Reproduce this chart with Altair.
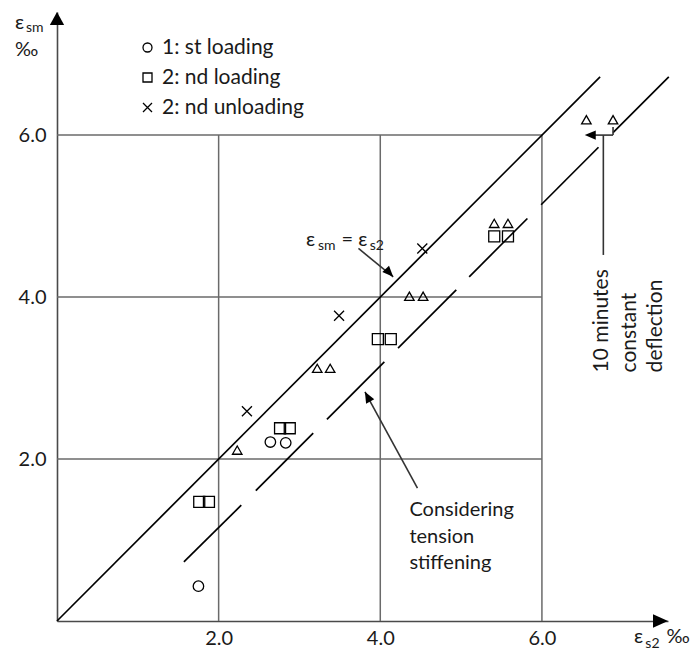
import altair as alt
import pandas as pd

# ---- measured strains (per mille) --------------------------------------
circle_x = [1.75, 2.64, 2.83]
circle_y = [0.43, 2.21, 2.20]
square_x = [1.76, 1.88, 2.76, 2.88, 3.97, 4.13, 5.41, 5.58]
square_y = [1.47, 1.47, 2.38, 2.38, 3.48, 3.48, 4.75, 4.75]
cross_x = [2.35, 3.49, 4.52]
cross_y = [2.59, 3.77, 4.60]
triangle_x = [2.23, 3.22, 3.38, 4.36, 4.53, 5.41, 5.58, 6.55, 6.88]
triangle_y = [2.11, 3.12, 3.12, 4.01, 4.01, 4.91, 4.91, 6.19, 6.19]

series_names = ["1: st loading", "2: nd loading", "2: nd unloading", "constant deflection"]
legend_names = series_names[:3]
marker_sizes = [110, 121, 100, 90]

# equality line eps_sm = eps_s2
equal_x = [0.0, 6.72]
equal_y = [0.0, 6.72]

# tension-stiffening line, drawn as long dashes
ts_x0 = [1.57, 2.46, 3.34, 4.22, 5.10, 5.99, 6.88]
ts_y0 = [0.73, 1.61, 2.49, 3.37, 4.25, 5.14, 6.03]
ts_x1 = [2.28, 3.17, 4.05, 4.94, 5.82, 6.70, 7.57]
ts_y1 = [1.43, 2.32, 3.20, 4.09, 4.97, 5.85, 6.72]

grid_values = [2.0, 4.0, 6.0]
grid_end = 6.0

X_MAX = 7.56
Y_MAX = 7.52

FONT = "Lato"
INK = "#1a1a1a"
GRID = "#6a6a6a"

# ---- tables --------------------------------------------------------------
points = pd.concat([
    pd.DataFrame({"x": circle_x, "y": circle_y, "series": series_names[0]}),
    pd.DataFrame({"x": square_x, "y": square_y, "series": series_names[1]}),
    pd.DataFrame({"x": cross_x, "y": cross_y, "series": series_names[2]}),
    pd.DataFrame({"x": triangle_x, "y": triangle_y, "series": series_names[3]}),
], ignore_index=True)
points["marker"] = points["series"].map(dict(zip(series_names, marker_sizes)))

grid = pd.concat([
    pd.DataFrame({"x": grid_values, "y": [0.0] * 3, "x2": grid_values, "y2": [grid_end] * 3}),
    pd.DataFrame({"x": [0.0] * 3, "y": grid_values, "x2": [grid_end] * 3, "y2": grid_values}),
], ignore_index=True)

lines = pd.concat([
    pd.DataFrame({"x": [equal_x[0]], "y": [equal_y[0]], "x2": [equal_x[1]], "y2": [equal_y[1]]}),
    pd.DataFrame({"x": ts_x0, "y": ts_y0, "x2": ts_x1, "y2": ts_y1}),
], ignore_index=True)

# annotation leaders (shaft of each arrow)
leader_x = [3.73, 4.46, 6.60, 6.76, 6.88]
leader_y = [4.60, 1.64, 6.00, 6.00, 6.00]
leader_x2 = [4.16, 3.81, 6.88, 6.76, 6.88]
leader_y2 = [4.25, 2.83, 6.00, 4.52, 6.10]
leaders = pd.DataFrame({"x": leader_x, "y": leader_y, "x2": leader_x2, "y2": leader_y2})

# arrow heads: tip position and pointing direction (degrees, clockwise)
head_x = [4.16, 3.81, 6.53]
head_y = [4.25, 2.83, 6.00]
head_angle = [46.7, 241.6, 180.0]
heads = pd.DataFrame({"x": head_x, "y": head_y, "angle": head_angle})

label_text = ["Considering", "tension", "stiffening", "ε", "‰", "ε", "‰", "ε", "= ε"]
label_x = [4.36, 4.36, 4.36, -0.52, -0.52, 7.14, 7.54, 3.08, 3.52]
label_y = [1.37, 1.04, 0.72, 7.38, 7.05, -0.20, -0.20, 4.71, 4.71]
labels = pd.DataFrame({"x": label_x, "y": label_y, "text": label_text})

sub_text = ["sm", "s2", "sm", "s2"]
sub_x = [-0.385, 7.28, 3.23, 3.87]
sub_y = [7.32, -0.28, 4.63, 4.63]
subs = pd.DataFrame({"x": sub_x, "y": sub_y, "text": sub_text})

rot_text = ["10 minutes", "constant", "deflection"]
rot_x = [6.745, 7.09, 7.41]
rot_y = [3.07, 3.07, 3.07]
rotated = pd.DataFrame({"x": rot_x, "y": rot_y, "text": rot_text})

y_tip = pd.DataFrame({"x": [0.0], "y": [Y_MAX]})
x_tip = pd.DataFrame({"x": [X_MAX], "y": [0.0]})

# ---- encodings -----------------------------------------------------------
xs = alt.Scale(domain=[0, X_MAX], nice=False, zero=False)
ys = alt.Scale(domain=[0, Y_MAX], nice=False, zero=False)

x_axis = alt.Axis(values=grid_values, format=".1f", title=None, grid=False, ticks=False,
                  tickSize=0, labelPadding=7, labelFont=FONT, labelFontSize=20,
                  labelColor=INK, domainColor="#4a4a4a", domainWidth=1.6)
y_axis = alt.Axis(values=grid_values, format=".1f", title=None, grid=False, ticks=False,
                  tickSize=0, labelPadding=11, labelFont=FONT, labelFontSize=20,
                  labelColor=INK, domainColor="#4a4a4a", domainWidth=1.6)


def X(field="x"):
    return alt.X(field, type="quantitative", scale=xs, axis=x_axis)


def Y(field="y"):
    return alt.Y(field, type="quantitative", scale=ys, axis=y_axis)


grid_layer = alt.Chart(grid).mark_rule(color=GRID, strokeWidth=1.5).encode(
    x=X(), y=Y(), x2="x2", y2="y2")

line_layer = alt.Chart(lines).mark_rule(color="black", strokeWidth=1.7).encode(
    x=X(), y=Y(), x2="x2", y2="y2")

leader_layer = alt.Chart(leaders).mark_rule(color="#333333", strokeWidth=1.6).encode(
    x=X(), y=Y(), x2="x2", y2="y2")

head_layer = alt.Chart(heads).mark_point(
    shape="M0,0L-1,-0.42L-1,0.42Z", filled=True, color="black", opacity=1, size=484
).encode(x=X(), y=Y(), angle=alt.Angle("angle:Q", scale=None))

y_tip_layer = alt.Chart(y_tip).mark_point(
    shape="M0,0L-0.55,1L0.55,1Z", size=676, filled=True, color="black", opacity=1
).encode(x=X(), y=Y())

x_tip_layer = alt.Chart(x_tip).mark_point(
    shape="M0,0L-1,-0.45L-1,0.45Z", size=900, filled=True, color="black", opacity=1
).encode(x=X(), y=Y())

point_layer = alt.Chart(points).mark_point(filled=False, color="black", strokeWidth=1.3, opacity=1).encode(
    x=X(), y=Y(),
    shape=alt.Shape("series:N", scale=alt.Scale(
        domain=series_names,
        range=["circle", "square", "M-1,-1L1,1M-1,1L1,-1", "triangle-up"]),
        legend=alt.Legend(title=None, orient="none", legendX=80, legendY=25, values=legend_names,
                          padding=0, labelFont=FONT, labelFontSize=21, labelColor=INK,
                          symbolStrokeColor="black", symbolStrokeWidth=1.3, symbolSize=81,
                          symbolFillColor="transparent", rowPadding=8, labelOffset=4)),
    size=alt.Size("marker:Q", scale=None, legend=None),
)

label_layer = alt.Chart(labels).mark_text(
    font=FONT, fontSize=20, color=INK, align="left", baseline="middle"
).encode(x=X(), y=Y(), text="text:N")

sub_layer = alt.Chart(subs).mark_text(
    font=FONT, fontSize=14, color=INK, align="left", baseline="middle"
).encode(x=X(), y=Y(), text="text:N")

rot_layer = alt.Chart(rotated).mark_text(
    font=FONT, fontSize=21, color=INK, align="left", baseline="middle", angle=270
).encode(x=X(), y=Y(), text="text:N")

chart = alt.layer(
    grid_layer, line_layer, leader_layer, head_layer, y_tip_layer, x_tip_layer,
    point_layer, label_layer, sub_layer, rot_layer
).properties(
    width=611, height=609,
    autosize=alt.AutoSizeParams(type="none"),
    padding={"left": 57, "top": 12, "right": 24, "bottom": 31},
).configure_view(stroke=None)

chart.save("out.html", embed_options={"renderer": "svg", "actions": False})
